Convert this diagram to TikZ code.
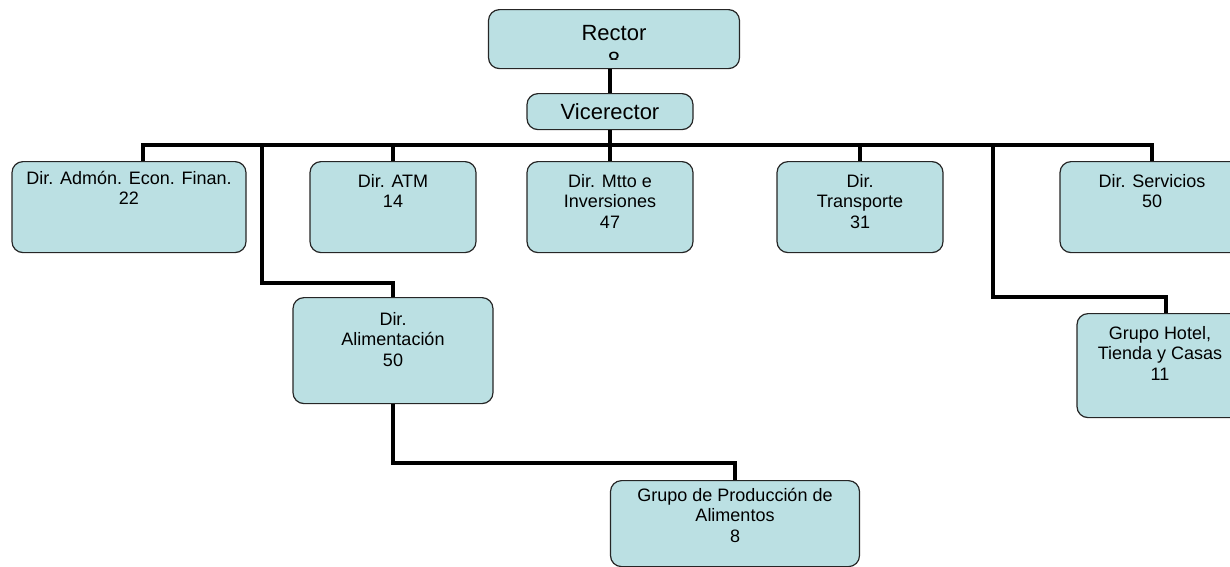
\documentclass[tikz,border=0pt]{standalone}
\usepackage{fontspec}
\setmainfont{Liberation Sans}
\definecolor{cajon}{RGB}{187,224,227}
\begin{document}
\begin{tikzpicture}[x=1pt,y=-1pt,
    unidad/.style={draw=black!85,line width=1.2pt,rounded corners=11pt,fill=cajon,anchor=north,inner sep=0pt},
    txt/.style={anchor=north,align=center,inner sep=0pt,yshift=-13pt,font=\fontsize{18}{20.5}\selectfont},
    link/.style={line width=4pt,line join=miter}]

    \clip (0,0) rectangle (1230,566);

    % Define vertices
    \node[unidad,minimum width=251pt,minimum height=59pt] (rector) at (614,9) {};
    \begin{scope}
        \clip (rector.north west) rectangle ([yshift=10pt]rector.south east);
        \node[anchor=north,align=center,inner sep=0pt,font=\fontsize{22}{27}\selectfont] (rectortxt) at ([yshift=-16pt]rector.north) {Rector\\8};
    \end{scope}
    \node[unidad,minimum width=166pt,minimum height=36pt,font=\fontsize{22}{26}\selectfont] (vice) at (610,93) {Vicerector};

    \node[unidad,minimum width=234pt,minimum height=91pt,label={[txt,yshift=3pt]90:{Dir. Admón. Econ. Finan.\\22}}] (admon) at (129,161) {};
    \node[unidad,minimum width=166pt,minimum height=91pt,label={[txt]90:{Dir. ATM\\14}}] (atm) at (393,161) {};
    \node[unidad,minimum width=166pt,minimum height=91pt,label={[txt]90:{Dir. Mtto e\\Inversiones\\47}}] (mtto) at (610,161) {};
    \node[unidad,minimum width=166pt,minimum height=91pt,label={[txt]90:{Dir.\\Transporte\\31}}] (transp) at (860,161) {};
    \node[unidad,minimum width=184pt,minimum height=91pt,label={[txt]90:{Dir. Servicios\\50}}] (serv) at (1152,161) {};

    \node[unidad,minimum width=200pt,minimum height=106pt,label={[txt,yshift=-2pt]90:{Dir.\\Alimentación\\50}}] (alim) at (393,297) {};
    \node[unidad,minimum width=166pt,minimum height=104pt,label={[txt]90:{Grupo Hotel,\\Tienda y Casas\\11}}] (hotel) at (1160,313) {};
    \node[unidad,minimum width=249pt,minimum height=86pt,label={[txt,yshift=5pt]90:{Grupo de Producción de\\Alimentos\\8}}] (prod) at (735,480) {};

    % Draw edges
    \coordinate (bus) at (610,145);
    \coordinate (alimtap) at (262,145);
    \coordinate (hoteltap) at (993,145);

    \draw[link] (rector.south -| vice.north) -- (vice.north);
    \draw[link] (vice.south) -- (bus);
    \draw[link] ([xshift=14pt]admon.north) |- (bus) -| (serv.north);
    \draw[link] (atm.north) -- (atm.north |- bus);
    \draw[link] (mtto.north) -- (bus);
    \draw[link] (transp.north) -- (transp.north |- bus);
    \draw[link] (alimtap) |- ([yshift=14pt]alim.north) -- (alim.north);
    \draw[link] (hoteltap) |- ([xshift=6pt,yshift=16pt]hotel.north) -- ([xshift=6pt]hotel.north);
    \draw[link] (alim.south) |- ([yshift=17pt]prod.north) -- (prod.north);

\end{tikzpicture}
\end{document}
